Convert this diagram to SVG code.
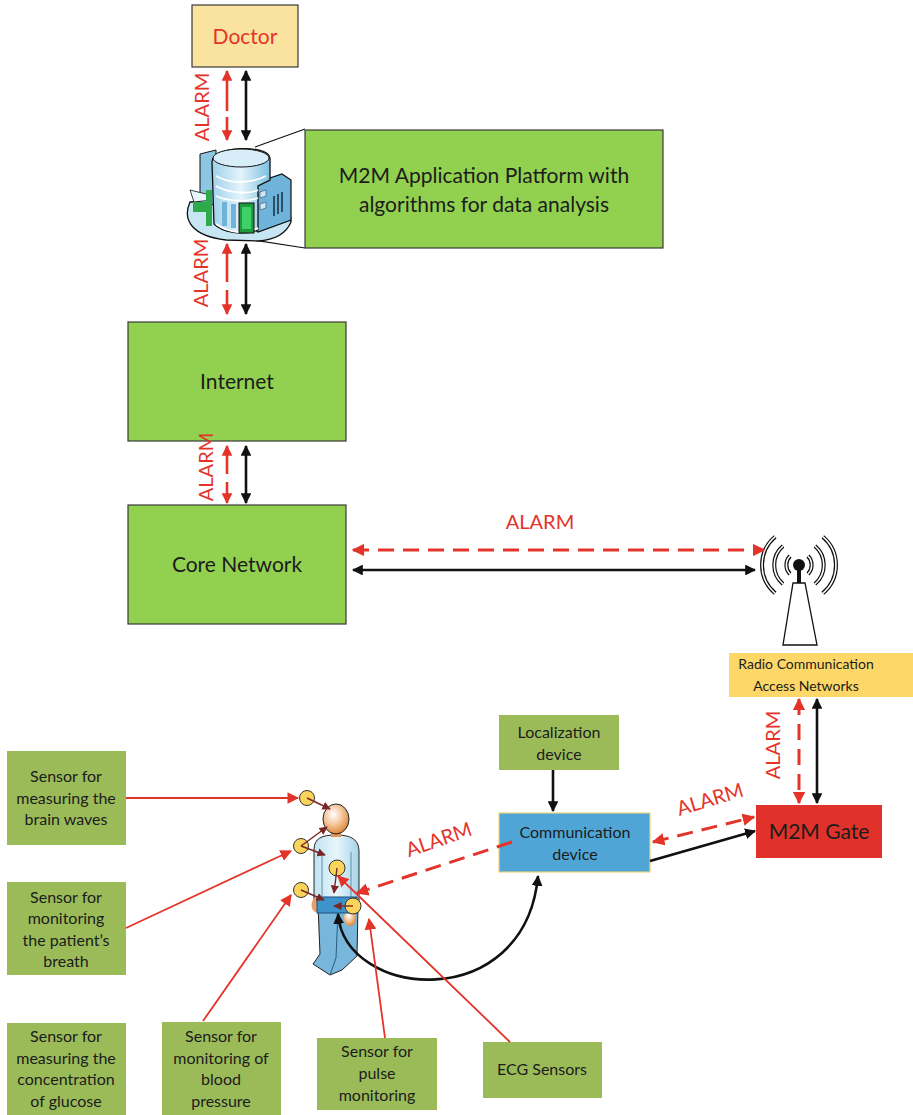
<svg xmlns="http://www.w3.org/2000/svg" width="913" height="1115" viewBox="0 0 913 1115">
  <style>
    text { font-family: Lato, "Open Sans", "Liberation Sans", sans-serif; fill: #1c1c1c; }
    .big { font-size: 21px; text-anchor: middle; }
    .mid { font-size: 16px; text-anchor: middle; }
    .alarm { font-size: 20px; fill: #e4342a; text-anchor: middle; }
    .boxG { fill: #92d050; stroke: #3a3a3a; stroke-width: 1.2; }
    .sensorBox { fill: #9bbb59; }
    .red { stroke: #e4342a; stroke-width: 2.6; fill: none; }
    .redDash { stroke: #e4342a; stroke-width: 3; fill: none; stroke-dasharray: 16 9; }
    .blk { stroke: #111; stroke-width: 2.6; fill: none; }
    .thinRed { stroke: #e4342a; stroke-width: 1.8; fill: none; }
    .brown { stroke: #7b2626; stroke-width: 1.4; fill: none; }
    .sensor { fill: #fbd45c; stroke: #333; stroke-width: 1; }
  </style>
  <defs>
    <marker id="hRed" viewBox="0 0 10 10" refX="9" refY="5" markerWidth="4.2" markerHeight="4.2" orient="auto-start-reverse" markerUnits="strokeWidth">
      <path d="M0,0 L10,5 L0,10 Z" fill="#e4342a"/>
    </marker>
    <marker id="hBlk" viewBox="0 0 10 10" refX="9" refY="5" markerWidth="4.2" markerHeight="4.2" orient="auto-start-reverse" markerUnits="strokeWidth">
      <path d="M0,0 L10,5 L0,10 Z" fill="#111"/>
    </marker>
    <marker id="hRedS" viewBox="0 0 10 10" refX="9" refY="5" markerWidth="6.5" markerHeight="6.5" orient="auto" markerUnits="strokeWidth">
      <path d="M0,0 L10,5 L0,10 Z" fill="#e4342a"/>
    </marker>
    <marker id="hBrown" viewBox="0 0 10 10" refX="9" refY="5" markerWidth="6" markerHeight="6" orient="auto" markerUnits="strokeWidth">
      <path d="M0,0 L10,5 L0,10 Z" fill="#7b2626"/>
    </marker>
    <linearGradient id="torsoG" x1="0" y1="0" x2="1" y2="0">
      <stop offset="0" stop-color="#bfe2f1"/>
      <stop offset="0.5" stop-color="#e8f6fb"/>
      <stop offset="1" stop-color="#a5d3e8"/>
    </linearGradient>
    <radialGradient id="skinG" cx="0.4" cy="0.35" r="0.7">
      <stop offset="0" stop-color="#ffffff"/>
      <stop offset="0.5" stop-color="#f4c49a"/>
      <stop offset="1" stop-color="#d9822b"/>
    </radialGradient>
    <linearGradient id="towerG" x1="0" y1="0" x2="1" y2="0">
      <stop offset="0" stop-color="#9fd1ea"/>
      <stop offset="0.5" stop-color="#e4f4fb"/>
      <stop offset="1" stop-color="#7cbfe0"/>
    </linearGradient>
  </defs>

  <!-- nodes -->
  <g id="doctor">
    <rect x="192" y="5" width="106" height="62" fill="#fae29f" stroke="#3a3a3a" stroke-width="1.2"/>
    <text x="245" y="44" class="big" style="fill:#e4342a">Doctor</text>
  </g>

  <g id="server-building">
    <!-- callout from building to platform box -->
    <path d="M255,147 L305,129 M253,240 L305,248" stroke="#111" stroke-width="1.2" fill="none"/>
    <g transform="translate(186,140)">
      <!-- base platform -->
      <path d="M4,62 C-4,80 6,96 40,100 L72,101 C88,100 100,94 105,82 L104,70 L60,60 Z" fill="#c6e6f3" stroke="#111" stroke-width="1.3"/>
      <!-- back left tower -->
      <path d="M14,14 L30,10 L30,64 L14,66 Z" fill="#8cc6e2" stroke="#111" stroke-width="1"/>
      <!-- right wing -->
      <path d="M66,44 L96,34 L105,40 L105,80 L72,92 L66,88 Z" fill="#6fb3da" stroke="#111" stroke-width="1.2"/>
      <path d="M88,56 L88,76 M92,54 L92,74 M96,52 L96,72" stroke="#2a4f66" stroke-width="2"/>
      <path d="M74,52 L80,50 L80,56 L74,58 Z M74,64 L80,62 L80,68 L74,70 Z" fill="#cfe8f5" stroke="#2a4f66" stroke-width="0.6"/>
      <!-- rotunda -->
      <path d="M26,22 C26,6 82,4 84,18 L84,40 L72,46 L72,90 C56,96 36,92 28,84 Z" fill="url(#towerG)" stroke="#111" stroke-width="1.3"/>
      <ellipse cx="55" cy="18" rx="28" ry="9" fill="#d7eef8" stroke="#111" stroke-width="1"/>
      <path d="M30,36 C44,44 64,44 80,36 M30,46 C44,54 64,54 72,50 M30,56 C44,62 60,62 72,58" stroke="#ffffff" stroke-width="1.8" fill="none"/>
      <rect x="36" y="62" width="5" height="24" fill="#6fb3da"/>
      <rect x="45" y="64" width="5" height="24" fill="#6fb3da"/>
      <path d="M30,84 C44,94 60,94 72,88" stroke="#ffffff" stroke-width="2" fill="none"/>
      <!-- left entrance -->
      <path d="M4,50 L20,54 L26,60 L8,62 Z" fill="#e8f5fb" stroke="#111" stroke-width="0.8"/>
      <rect x="7" y="62" width="14" height="10" fill="#2faa4a"/>
      <rect x="20" y="50" width="6" height="36" fill="#2faa4a"/>
      <!-- green door -->
      <rect x="53" y="63" width="15" height="30" fill="#1e9b3e" stroke="#111" stroke-width="1"/>
      <rect x="56" y="67" width="9" height="22" fill="#3fd06a"/>
    </g>
  </g>

  <g id="m2m-platform">
    <rect x="305" y="130" width="358" height="118" class="boxG"/>
    <text x="484" y="183" class="big">M2M Application Platform with</text>
    <text x="484" y="212" class="big">algorithms for data analysis</text>
  </g>

  <g id="internet">
    <rect x="128" y="322" width="218" height="119" class="boxG"/>
    <text x="237" y="389" class="big">Internet</text>
  </g>

  <g id="core-network">
    <rect x="128" y="505" width="218" height="119" class="boxG"/>
    <text x="237" y="572" class="big">Core Network</text>
  </g>

  <g id="antenna">
    <g fill="none">
      <path d="M775.2,536.7 A37,37 0 0 0 775.2,593.3 M783,546 A25,25 0 0 0 783,584 M790,556 A13,13 0 0 0 790,574 M822.8,536.7 A37,37 0 0 1 822.8,593.3 M815,546 A25,25 0 0 1 815,584 M808,556 A13,13 0 0 1 808,574" stroke="#111" stroke-width="4"/>
      <path d="M775.2,536.7 A37,37 0 0 0 775.2,593.3 M783,546 A25,25 0 0 0 783,584 M790,556 A13,13 0 0 0 790,574 M822.8,536.7 A37,37 0 0 1 822.8,593.3 M815,546 A25,25 0 0 1 815,584 M808,556 A13,13 0 0 1 808,574" stroke="#fff" stroke-width="1.6"/>
    </g>
    <line x1="799" y1="565" x2="799" y2="584" stroke="#111" stroke-width="4"/>
    <circle cx="799" cy="565" r="6" fill="#111"/>
    <path d="M793,583 L805,583 L817,645 L783,645 Z" fill="#fff" stroke="#111" stroke-width="1.3"/>
  </g>

  <g id="radio-access">
    <rect x="729" y="653" width="184" height="44" fill="#fdd868"/>
    <text x="806" y="669" class="mid" style="font-size:14px">Radio Communication</text>
    <text x="806" y="691" class="mid" style="font-size:14px">Access Networks</text>
  </g>

  <g id="m2m-gate">
    <rect x="756" y="805" width="126" height="53" fill="#e0322a"/>
    <text x="819" y="839" class="big">M2M Gate</text>
  </g>

  <g id="localization">
    <rect x="499" y="715" width="120" height="55" class="sensorBox"/>
    <text x="559" y="738" class="mid">Localization</text>
    <text x="559" y="760" class="mid">device</text>
  </g>

  <g id="communication-device">
    <rect x="499" y="813" width="151" height="59" fill="#4fa5d6" stroke="#ecd27c" stroke-width="1.2"/>
    <text x="575" y="838" class="mid">Communication</text>
    <text x="575" y="860" class="mid">device</text>
  </g>

  <g id="patient">
    <!-- legs -->
    <path d="M318,905 L358,905 L357,956 L342,970 L330,975 L313,964 L320,954 Z" fill="#79b6db" stroke="#222" stroke-width="1"/>
    <path d="M338,910 L336,958 L330,975" stroke="#2b5d80" stroke-width="1" fill="none"/>
    <!-- torso and arms -->
    <path d="M314,905 L314,850 C314,838 322,835 336,835 C352,835 359,840 359,852 L359,905 Z" fill="url(#torsoG)" stroke="#222" stroke-width="1"/>
    <path d="M322,852 L322,896 M351,852 L351,898" stroke="#4f89a8" stroke-width="0.9"/>
    <!-- neck and head -->
    <rect x="331" y="830" width="10" height="7" fill="#e4955a"/>
    <ellipse cx="336" cy="819" rx="13" ry="15" fill="url(#skinG)" stroke="#222" stroke-width="1"/>
    <!-- hands -->
    <ellipse cx="316" cy="905" rx="4.5" ry="7" fill="#e8a06a"/>
    <ellipse cx="350" cy="918" rx="6" ry="8" fill="url(#skinG)"/>
    <!-- belt unit -->
    <rect x="317" y="897" width="40" height="16" fill="#3d94cc" stroke="#1f4e79" stroke-width="1"/>
  </g>

  <g id="body-sensors">
    <circle cx="307" cy="798" r="7.5" class="sensor"/>
    <circle cx="301" cy="846" r="7.5" class="sensor"/>
    <circle cx="301" cy="890" r="7.5" class="sensor"/>
    <circle cx="337" cy="868" r="8" class="sensor"/>
    <circle cx="353" cy="906" r="8" class="sensor"/>
    <path d="M307,798 L330,809" class="brown" marker-end="url(#hBrown)"/>
    <path d="M301,846 L327,827" class="brown" marker-end="url(#hBrown)"/>
    <path d="M301,846 L325,855" class="brown" marker-end="url(#hBrown)"/>
    <path d="M301,890 L324,900" class="brown" marker-end="url(#hBrown)"/>
    <path d="M337,868 L334,893" class="brown" marker-end="url(#hBrown)"/>
    <path d="M353,906 L334,906" class="brown" marker-end="url(#hBrown)"/>
  </g>

  <g id="sensor-brain">
    <rect x="7" y="751" width="119" height="94" class="sensorBox"/>
    <text x="66" y="782" class="mid">Sensor for</text>
    <text x="66" y="804" class="mid">measuring the</text>
    <text x="66" y="825" class="mid">brain waves</text>
  </g>
  <g id="sensor-breath">
    <rect x="7" y="882" width="119" height="93" class="sensorBox"/>
    <text x="66" y="903" class="mid">Sensor for</text>
    <text x="66" y="924" class="mid">monitoring</text>
    <text x="66" y="946" class="mid">the patient’s</text>
    <text x="66" y="967" class="mid">breath</text>
  </g>
  <g id="sensor-glucose">
    <rect x="7" y="1023" width="119" height="92" class="sensorBox"/>
    <text x="66" y="1042" class="mid">Sensor for</text>
    <text x="66" y="1064" class="mid">measuring the</text>
    <text x="66" y="1085" class="mid">concentration</text>
    <text x="66" y="1107" class="mid">of glucose</text>
  </g>
  <g id="sensor-blood-pressure">
    <rect x="162" y="1022" width="119" height="93" class="sensorBox"/>
    <text x="221" y="1042" class="mid">Sensor for</text>
    <text x="221" y="1064" class="mid">monitoring of</text>
    <text x="221" y="1085" class="mid">blood</text>
    <text x="221" y="1107" class="mid">pressure</text>
  </g>
  <g id="sensor-pulse">
    <rect x="317" y="1038" width="120" height="72" class="sensorBox"/>
    <text x="377" y="1057" class="mid">Sensor for</text>
    <text x="377" y="1079" class="mid">pulse</text>
    <text x="377" y="1101" class="mid">monitoring</text>
  </g>
  <g id="sensor-ecg">
    <rect x="483" y="1042" width="119" height="56" class="sensorBox"/>
    <text x="542" y="1075" class="mid">ECG Sensors</text>
  </g>

  <!-- connectors -->
  <g id="connectors">
    <!-- doctor / platform -->
    <path d="M227,71 L227,140" class="red" stroke-dasharray="40 6" marker-start="url(#hRed)" marker-end="url(#hRed)"/>
    <path d="M246,71 L246,140" class="blk" marker-start="url(#hBlk)" marker-end="url(#hBlk)"/>
    <text transform="translate(209,107) rotate(-90)" class="alarm">ALARM</text>
    <!-- platform / internet -->
    <path d="M227,244 L227,314" class="red" stroke-dasharray="38 8" marker-start="url(#hRed)" marker-end="url(#hRed)"/>
    <path d="M246,244 L246,314" class="blk" marker-start="url(#hBlk)" marker-end="url(#hBlk)"/>
    <text transform="translate(208,273) rotate(-90)" class="alarm">ALARM</text>
    <!-- internet / core network -->
    <path d="M227,446 L227,503" class="red" stroke-dasharray="28 8" marker-start="url(#hRed)" marker-end="url(#hRed)"/>
    <path d="M246,446 L246,503" class="blk" marker-start="url(#hBlk)" marker-end="url(#hBlk)"/>
    <text transform="translate(213,467) rotate(-90)" class="alarm">ALARM</text>
    <!-- core network / antenna -->
    <path d="M353,550 L764,550" class="redDash" stroke-dasharray="20 10" marker-start="url(#hRed)" marker-end="url(#hRed)"/>
    <path d="M353,570 L755,570" class="blk" marker-start="url(#hBlk)" marker-end="url(#hBlk)"/>
    <text x="540" y="529" class="alarm">ALARM</text>
    <!-- radio access / gate -->
    <path d="M799,699 L799,803" class="redDash" stroke-dasharray="22 8" marker-start="url(#hRed)" marker-end="url(#hRed)"/>
    <path d="M817,699 L817,803" class="blk" marker-start="url(#hBlk)" marker-end="url(#hBlk)"/>
    <text transform="translate(780,745) rotate(-90)" class="alarm">ALARM</text>
    <!-- communication device / gate -->
    <path d="M653,842 L754,817" class="redDash" marker-start="url(#hRed)" marker-end="url(#hRed)"/>
    <path d="M650,861 L755,831" class="blk" marker-end="url(#hBlk)"/>
    <text transform="translate(712,806) rotate(-17)" class="alarm">ALARM</text>
    <!-- localization -> communication device -->
    <path d="M553,770 L553,811" class="blk" marker-end="url(#hBlk)"/>
    <!-- communication device -> patient -->
    <path d="M512,842 L357,893" class="redDash" stroke-dasharray="20 10" marker-end="url(#hRed)"/>
    <text transform="translate(441,846) rotate(-19)" class="alarm">ALARM</text>
    <!-- patient belt unit <-> communication device -->
    <path d="M338,914 C345,1000 525,1015 538,876" class="blk" stroke-width="2" marker-start="url(#hBlk)" marker-end="url(#hBlk)"/>
    <!-- sensor feeds -->
    <path d="M126,798 L298,798" class="thinRed" marker-end="url(#hRedS)"/>
    <path d="M126,928 L291,851" class="thinRed" marker-end="url(#hRedS)"/>
    <path d="M203,1021 L291,895" class="thinRed" marker-end="url(#hRedS)"/>
    <path d="M385,1038 L369,919" class="thinRed" marker-end="url(#hRedS)"/>
    <path d="M510,1042 L338,876" class="thinRed" marker-end="url(#hRedS)"/>
  </g>
</svg>
